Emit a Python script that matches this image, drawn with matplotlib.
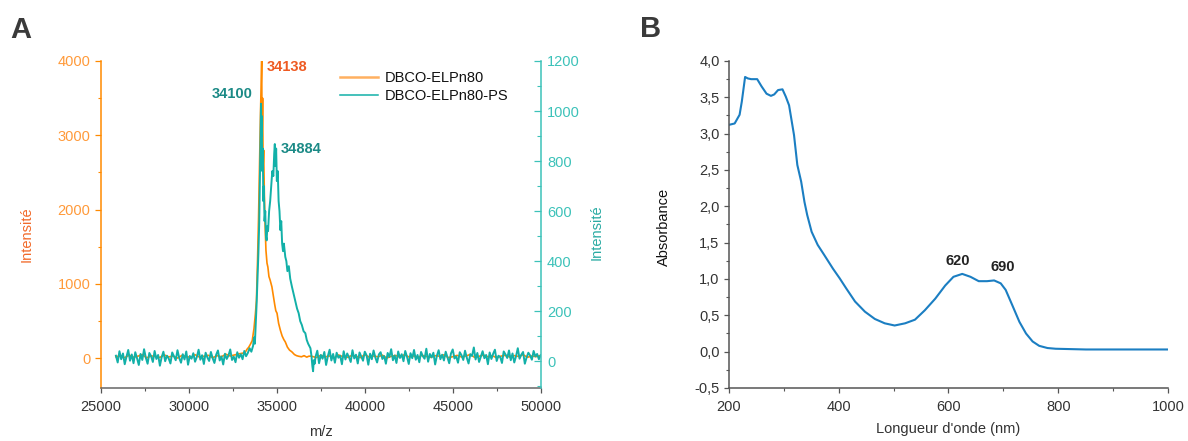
import numpy as np
import matplotlib
matplotlib.use("Agg")
import matplotlib.pyplot as plt
from matplotlib.ticker import MultipleLocator, FixedLocator
from matplotlib.lines import Line2D

plt.rcParams['font.family'] = ['Liberation Sans', 'DejaVu Sans']

# ---------------- Panel A data (MALDI spectra) ----------------
series_names = ["DBCO-ELPn80", "DBCO-ELPn80-PS"]

# DBCO-ELPn80 (left axis)
orange_base_left = [20, 35, 8, 42, 15, 28, 50, 5, 33, 22, 12, 45, 18, 30, 2, 38, 25, 10, 48, 16,
                    27, 40, 7, 35, 20, 55, 30, 45, 60, 70]
orange_peak_mz = [33200, 33300, 33400, 33500, 33600, 33700, 33780, 33840, 33900, 33960, 34020, 34070,
                  34110, 34138, 34160, 34190, 34220, 34250, 34290, 34330, 34380, 34440, 34490, 34550,
                  34620, 34720, 34800, 34880, 34940, 35010, 35100, 35200, 35300, 35400, 35480, 35600,
                  35720, 35860, 36000, 36120, 36240, 36400, 36550, 36700, 36810, 36950]
orange_peak_int = [80, 120, 148, 190, 238, 400, 600, 778, 1300, 1900, 2700, 3300,
                   3700, 4000, 3000, 3500, 2600, 2800, 2200, 1800, 1452, 1280, 1227, 1100,
                   1050, 960, 840, 720, 640, 606, 470, 377, 300, 250, 220, 150,
                   110, 85, 50, 35, 27, 20, 35, 15, 27, 30]
orange_base_right = [25, 10, 40, 18, 32, 5, 45, 22, 12, 36, 28, 8, 50, 15, 30, 20, 42, 3, 26, 38,
                     14, 48, 19, 33, 6, 40, 24, 12, 35, 28, 46, 9, 21, 39, 17, 30, 52, 11, 27, 43,
                     20, 34, 7, 29, 41, 16, 36, 24, 48, 13, 31, 22, 38]

# DBCO-ELPn80-PS (right axis)
teal_base_left = [22, -5, 40, 8, 31, -12, 18, 45, 2, 27, -8, 36, 12, -15, 29, 5, 48, 14, -10, 33,
                  20, -3, 41, 9, 25, -18, 16, 38, 0, 22, 11, -9, 35, 19, 4, 44, 13, -6, 28, 7,
                  39, -14, 21, 10, 32, -2, 17, 46, 6, 24, -11, 34, 15, 1, 37, 12, -7, 26, 43, 3,
                  19, -13, 30, 9, 23, 47, 5, 18, -4, 36, 14, 28, 8, 41, 20, 33, 52, 38]
teal_peak_mz = [33650, 33700, 33750, 33800, 33850, 33900, 33950, 34000, 34030, 34060, 34080, 34100,
                34120, 34140, 34170, 34200, 34230, 34260, 34300, 34340, 34380, 34420, 34460, 34500,
                34560, 34620, 34680, 34740, 34800, 34850, 34884, 34920, 34960, 35000, 35050, 35100,
                35150, 35200, 35250, 35300, 35350, 35400, 35480, 35540, 35600, 35680, 35760, 35860,
                35950, 36050, 36150, 36240, 36330, 36420, 36520, 36620, 36700, 36780, 36850, 36910,
                36970, 37020, 37060, 37100, 37150]
teal_peak_int = [62, 95, 70, 150, 230, 330, 430, 560, 700, 820, 950, 1029,
                 900, 980, 760, 850, 640, 700, 560, 600, 500, 483, 540, 520,
                 600, 640, 700, 760, 740, 830, 868, 780, 850, 720, 760, 640,
                 600, 524, 560, 470, 440, 470, 417, 400, 360, 380, 330, 297,
                 270, 240, 210, 192, 160, 145, 120, 112, 85, 70, 60, 52,
                 20, -20, -40, 4, -10]
teal_base_right = [18, 42, -8, 25, 10, 37, -15, 20, 46, 3, 29, -6, 34, 14, 22, -12, 40, 7, 31, 16,
                   -3, 44, 11, 26, -9, 35, 19, 2, 38, 24, -14, 30, 8, 43, 15, -5, 27, 36, 9, 21,
                   -10, 33, 17, 48, 4, 23, -7, 39, 13, 28, 0, 41, 18, -11, 32, 12, 45, 6, 25, -4,
                   37, 20, 10, 50, -2, 29, 15, 34, -13, 22, 44, 8, 26, 3, 38, 16, -8, 31, 47, 11,
                   19, -6, 36, 24, 5, 42, 14, -9, 28, 21, 55, 7, 33, -3, 18, 40, 12, 25, -12, 35,
                   9, 30, 46, 1, 22, 17, -7, 39, 27, 13, 43, 4, 31, -5, 20, 52, 10, 26, 37, -10,
                   15, 34, 23, 6, 41, 19, 29, 8, 24]

peak_labels = ["34138", "34100", "34884"]

a_xticks = [25000, 30000, 35000, 40000, 45000, 50000]
a_left_ticks = [0, 1000, 2000, 3000, 4000]
a_right_ticks = [0, 200, 400, 600, 800, 1000, 1200]

# ---------------- Panel B data (UV-vis) ----------------
wavelength = [200, 211, 220, 224, 230, 235, 241, 252, 260, 269, 277, 283, 290, 298, 304, 310, 319,
              325, 332, 338, 343, 351, 362, 374, 390, 402, 414, 430, 448, 466, 484, 502, 521, 539,
              557, 576, 594, 609, 625, 640, 655, 670, 683, 695, 704, 716, 729, 741, 753, 765, 780,
              795, 850, 900, 950, 1000]
absorbance = [3.12, 3.14, 3.26, 3.44, 3.78, 3.76, 3.75, 3.75, 3.65, 3.55, 3.52, 3.54, 3.60, 3.61,
              3.51, 3.39, 2.98, 2.57, 2.34, 2.06, 1.88, 1.65, 1.47, 1.33, 1.14, 1.01, 0.87, 0.69,
              0.55, 0.45, 0.39, 0.36, 0.39, 0.44, 0.57, 0.73, 0.91, 1.03, 1.07, 1.03, 0.97, 0.97,
              0.98, 0.94, 0.85, 0.64, 0.41, 0.25, 0.14, 0.08, 0.05, 0.04, 0.03, 0.03, 0.03, 0.03]
b_peak_labels = ["620", "690"]
b_xticks = [200, 400, 600, 800, 1000]
b_yticks = [-0.5, 0.0, 0.5, 1.0, 1.5, 2.0, 2.5, 3.0, 3.5, 4.0]
b_yticklabels = ["-0,5", "0,0", "0,5", "1,0", "1,5", "2,0", "2,5", "3,0", "3,5", "4,0"]

# ---------------- colours ----------------
C_OR = "#FF8A00"
C_TE = "#12B0A8"
C_OR_TXT = "#FF9A3A"
C_OR_LAB = "#F26A2A"
C_TE_TXT = "#3CC2B9"
C_TE_LAB = "#2AABA3"
C_TE_ANN = "#1B8A86"
C_OR_ANN = "#EE5A22"
C_DARK = "#333333"
C_BLUE = "#1B7EC2"

fig = plt.figure(figsize=(11.88, 4.41), dpi=100)

# ================= Panel A =================
axA = fig.add_axes([0.0850, 0.1202, 0.3701, 0.7415])
axA2 = axA.twinx()

o_mz = np.concatenate([np.linspace(25850, 33100, len(orange_base_left)), orange_peak_mz,
                       np.linspace(37000, 50000, len(orange_base_right))])
o_int = np.concatenate([orange_base_left, orange_peak_int, orange_base_right])
t_mz = np.concatenate([np.linspace(25850, 33550, len(teal_base_left)), teal_peak_mz,
                       np.linspace(37200, 50000, len(teal_base_right))])
t_int = np.concatenate([teal_base_left, teal_peak_int, teal_base_right])

axA.plot(o_mz, o_int, color=C_OR, lw=1.2)
axA2.plot(t_mz, t_int, color=C_TE, lw=1.4)

axA.set_xlim(25000, 50000)
axA.set_ylim(-400, 4000)
axA2.set_ylim(-107, 1200)

axA.set_xticks(a_xticks)
axA.xaxis.set_minor_locator(MultipleLocator(2500))
axA.set_yticks(a_left_ticks)
axA.yaxis.set_minor_locator(MultipleLocator(500))
axA2.set_yticks(a_right_ticks)
axA2.yaxis.set_minor_locator(MultipleLocator(100))

for ax in (axA, axA2):
    ax.spines['top'].set_visible(False)
axA.spines['right'].set_visible(False)
axA2.spines['left'].set_visible(False)
axA2.spines['bottom'].set_visible(False)
axA.spines['left'].set_color(C_OR)
axA.spines['bottom'].set_color("#666666")
axA2.spines['right'].set_color(C_TE_TXT)
for sp in ('left', 'bottom'):
    axA.spines[sp].set_linewidth(1.1)
axA2.spines['right'].set_linewidth(1.1)

axA.tick_params(axis='x', which='major', direction='out', length=3.5, width=0.9,
                color="#555555", labelsize=10.5, labelcolor=C_DARK, pad=5)
axA.tick_params(axis='x', which='minor', direction='out', length=2.2, width=0.8, color="#555555")
axA.tick_params(axis='y', which='major', direction='out', length=4, width=0.9,
                color=C_OR, labelsize=10.5, labelcolor=C_OR_TXT, pad=3.5)
axA.tick_params(axis='y', which='minor', direction='out', length=2, width=0.8, color=C_OR)
axA2.tick_params(axis='y', which='major', direction='in', length=4.8, width=0.9,
                 color=C_TE_TXT, labelsize=10.5, labelcolor=C_TE_TXT, pad=4.5)
axA2.tick_params(axis='y', which='minor', direction='in', length=2.8, width=0.8, color=C_TE_TXT)

axA.set_xlabel("m/z", fontsize=10.5, color=C_DARK)
axA.xaxis.set_label_coords(0.5, -0.112)
axA.set_ylabel("Intensité", fontsize=10.5, color=C_OR_LAB)
axA.yaxis.set_label_coords(-0.153, 0.47)
axA2.set_ylabel("Intensité", fontsize=10.5, color=C_TE_LAB, rotation=90)
axA2.yaxis.set_label_coords(1.111, 0.475)

axA2.text(34421, 1175, peak_labels[0], color=C_OR_ANN, fontsize=10.5, fontweight='bold',
          ha='left', va='center')
axA2.text(33620, 1070, peak_labels[1], color=C_TE_ANN, fontsize=10.5, fontweight='bold',
          ha='right', va='center')
axA2.text(35234, 848, peak_labels[2], color=C_TE_ANN, fontsize=10.5, fontweight='bold',
          ha='left', va='center')

handles = [Line2D([], [], color="#FFB060", lw=1.8), Line2D([], [], color=C_TE, lw=1.1)]
leg = axA2.legend(handles, series_names, loc='upper left', bbox_to_anchor=(0.5435, 0.968),
                  frameon=False, fontsize=10.5, handlelength=2.6, handletextpad=0.45,
                  labelspacing=0.25, borderpad=0, borderaxespad=0)
for t in leg.get_texts():
    t.set_color("#111111")

fig.text(10 / 1188, 1 - 38 / 441, "A", fontsize=21, fontweight='bold', color="#3A3A3A",
         ha='left', va='baseline')

# ================= Panel B =================
axB = fig.add_axes([0.6133, 0.1202, 0.3702, 0.7415])
axB.plot(wavelength, absorbance, color=C_BLUE, lw=1.5)
axB.set_xlim(200, 1000)
axB.set_ylim(-0.5, 4.0)
axB.set_xticks(b_xticks)
axB.xaxis.set_minor_locator(MultipleLocator(100))
axB.yaxis.set_major_locator(FixedLocator(b_yticks))
axB.set_yticklabels(b_yticklabels)
axB.yaxis.set_minor_locator(MultipleLocator(0.25))
axB.spines['top'].set_visible(False)
axB.spines['right'].set_visible(False)
for sp in ('left', 'bottom'):
    axB.spines[sp].set_color("#555555")
    axB.spines[sp].set_linewidth(1.1)
axB.tick_params(axis='both', which='major', direction='out', length=3.5, width=0.9,
                color="#555555", labelsize=10.5, labelcolor=C_DARK)
axB.tick_params(axis='x', which='major', pad=5)
axB.tick_params(axis='y', which='major', pad=3)
axB.tick_params(axis='both', which='minor', direction='out', length=2, width=0.8, color="#555555")
axB.set_xlabel("Longueur d'onde (nm)", fontsize=10.5, color=C_DARK)
axB.xaxis.set_label_coords(0.5, -0.105)
axB.set_ylabel("Absorbance", fontsize=10.5, color="#111111")
axB.yaxis.set_label_coords(-0.131, 0.493)

axB.text(617, 1.25, b_peak_labels[0], fontsize=10.5, fontweight='bold', color="#222222",
         ha='center', va='center')
axB.text(699, 1.16, b_peak_labels[1], fontsize=10.5, fontweight='bold', color="#222222",
         ha='center', va='center')

fig.text(640 / 1188, 1 - 37 / 441, "B", fontsize=21, fontweight='bold', color="#3A3A3A",
         ha='left', va='baseline')

fig.savefig("out.png", dpi=100)
